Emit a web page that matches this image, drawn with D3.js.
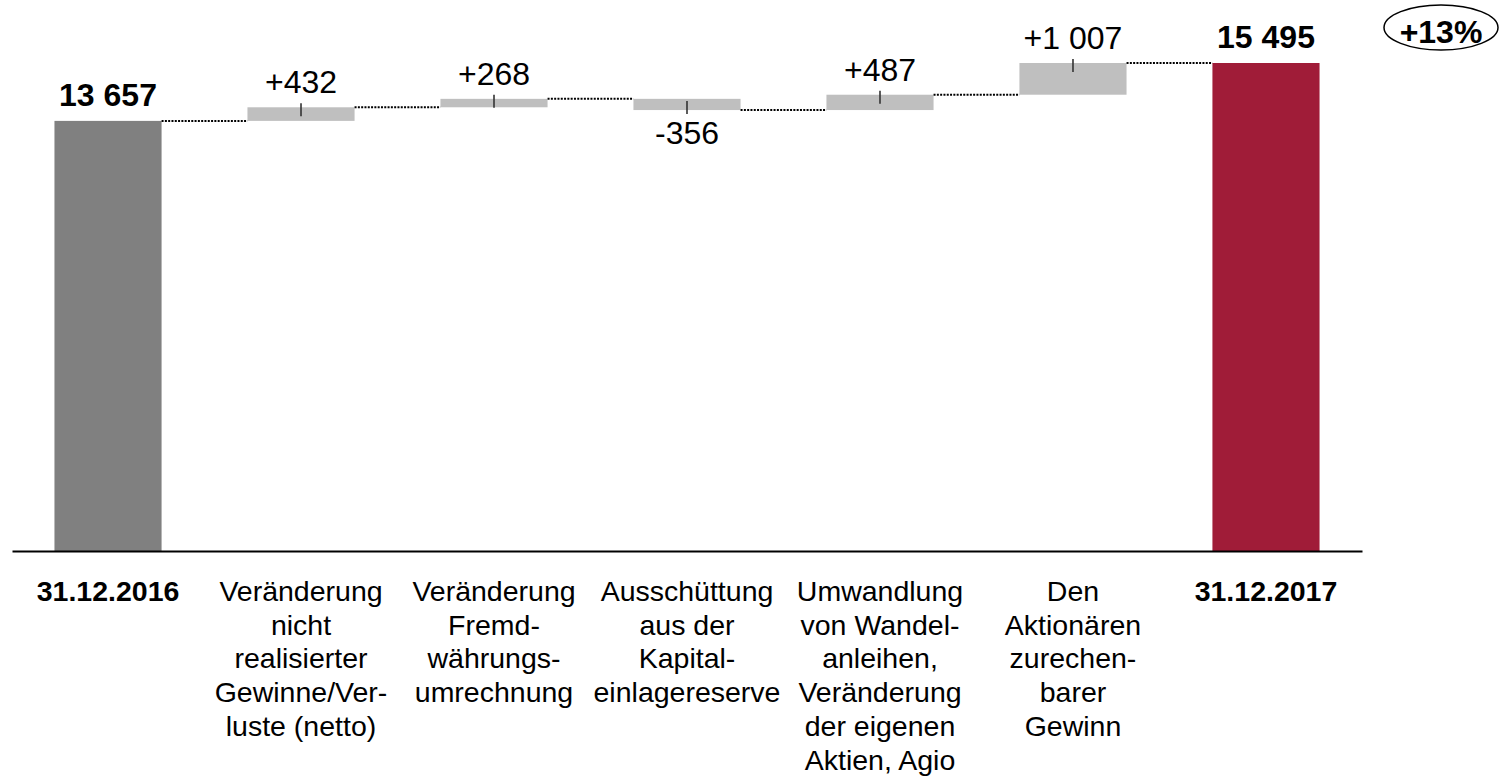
<!DOCTYPE html>
<html>
<head>
<meta charset="utf-8">
<script src="https://cdn.jsdelivr.net/npm/d3@7"></script>
<style>
  html, body { margin: 0; padding: 0; background: #fff; }
  svg { display: block; font-family: "Liberation Sans", Arial, sans-serif; }
</style>
</head>
<body>
<svg id="chart" width="1499" height="779"></svg>
<script>
// ---- Data ----
const categories = ["31.12.2016", "nicht", "Fremd", "Kapital", "Wandel", "Gewinn", "31.12.2017"];
const categoryLabels = [
  ["31.12.2016"],
  ["Veränderung", "nicht", "realisierter", "Gewinne/Ver-", "luste (netto)"],
  ["Veränderung", "Fremd-", "währungs-", "umrechnung"],
  ["Ausschüttung", "aus der", "Kapital-", "einlagereserve"],
  ["Umwandlung", "von Wandel-", "anleihen,", "Veränderung", "der eigenen", "Aktien, Agio"],
  ["Den", "Aktionären", "zurechen-", "barer", "Gewinn"],
  ["31.12.2017"]
];
const values = [13657, 432, 268, -356, 487, 1007, 15495];
const kinds = ["total", "delta", "delta", "delta", "delta", "delta", "total"];
const changeLabel = "+13%";

// ---- Build waterfall segments ----
const locale = d3.formatLocale({decimal: ",", thousands: " ", grouping: [3], currency: ["", ""]});
const fmt = locale.format(",d");
let running = 0;
const segs = values.map((v, i) => {
  let y0, y1;
  if (kinds[i] === "total") { y0 = 0; y1 = v; running = v; }
  else { y0 = running; y1 = running + v; running = y1; }
  return {cat: categories[i], v, kind: kinds[i], y0, y1, end: running, i};
});

const svg = d3.select("#chart");
const x = d3.scaleBand().domain(categories).range([12, 1362]).paddingInner(0.445).paddingOuter(0.22);
const y = d3.scaleLinear().domain([0, 15495]).range([551, 63]);

const colors = {first: "#808080", delta: "#bfbfbf", last: "#a01c38"};

// bars
svg.append("g").selectAll("rect").data(segs).join("rect")
  .attr("x", d => x(d.cat))
  .attr("width", x.bandwidth())
  .attr("y", d => y(Math.max(d.y0, d.y1)))
  .attr("height", d => Math.abs(y(d.y0) - y(d.y1)))
  .attr("fill", d => d.kind === "delta" ? colors.delta : (d.i === 0 ? colors.first : colors.last));

// connectors
svg.append("g").selectAll("line").data(segs.slice(0, -1)).join("line")
  .attr("x1", d => x(d.cat) + x.bandwidth())
  .attr("x2", d => x(categories[d.i + 1]))
  .attr("y1", d => y(d.end)).attr("y2", d => y(d.end))
  .attr("stroke", "#000").attr("stroke-width", 2).attr("stroke-dasharray", "2,1.3");

// tick marks on delta bars
const deltas = segs.filter(d => d.kind === "delta");
svg.append("g").selectAll("line").data(deltas).join("line")
  .attr("x1", d => x(d.cat) + x.bandwidth() / 2)
  .attr("x2", d => x(d.cat) + x.bandwidth() / 2)
  .attr("y1", d => d.v >= 0 ? y(d.y1) - 4 : y(d.y1) + 4)
  .attr("y2", d => d.v >= 0 ? y(d.y1) + 9 : y(d.y1) - 9)
  .attr("stroke", "#333").attr("stroke-width", 1.6);

// value labels
svg.append("g").selectAll("text").data(segs).join("text")
  .attr("x", d => x(d.cat) + x.bandwidth() / 2)
  .attr("y", d => {
    if (d.kind === "total") return y(d.y1) - 15;
    return d.v >= 0 ? y(d.y1) - 14 : y(d.y1) + 34;
  })
  .attr("text-anchor", "middle")
  .attr("font-size", 32)
  .attr("font-weight", d => d.kind === "total" ? "bold" : "normal")
  .attr("fill", "#000")
  .text(d => d.kind === "total" ? fmt(d.v) : (d.v >= 0 ? "+" : "-") + fmt(Math.abs(d.v)));

// axis baseline
const xAxis = d3.axisBottom(x).tickSize(0).tickFormat("");
const axG = svg.append("g").attr("transform", `translate(0,${y(0)})`).call(xAxis);
axG.select(".domain").attr("stroke", "#000").attr("stroke-width", 2);

// category labels
const lab = svg.append("g").selectAll("text").data(categoryLabels).join("text")
  .attr("x", (d, i) => x(categories[i]) + x.bandwidth() / 2)
  .attr("y", 601)
  .attr("text-anchor", "middle")
  .attr("font-size", 28.5)
  .attr("font-weight", (d, i) => kinds[i] === "total" ? "bold" : "normal")
  .attr("fill", "#000");
lab.selectAll("tspan").data(d => d).join("tspan")
  .attr("x", function() { return this.parentNode.getAttribute("x"); })
  .attr("dy", (d, j) => j === 0 ? 0 : 33.7)
  .text(d => d);

// change ellipse
svg.append("ellipse").attr("cx", 1441).attr("cy", 27.5).attr("rx", 57).attr("ry", 22.5)
  .attr("fill", "none").attr("stroke", "#000").attr("stroke-width", 1.5);
svg.append("text").attr("x", 1441).attr("y", 43).attr("text-anchor", "middle")
  .attr("font-size", 32).attr("font-weight", "bold").text(changeLabel);
</script>
</body>
</html>
